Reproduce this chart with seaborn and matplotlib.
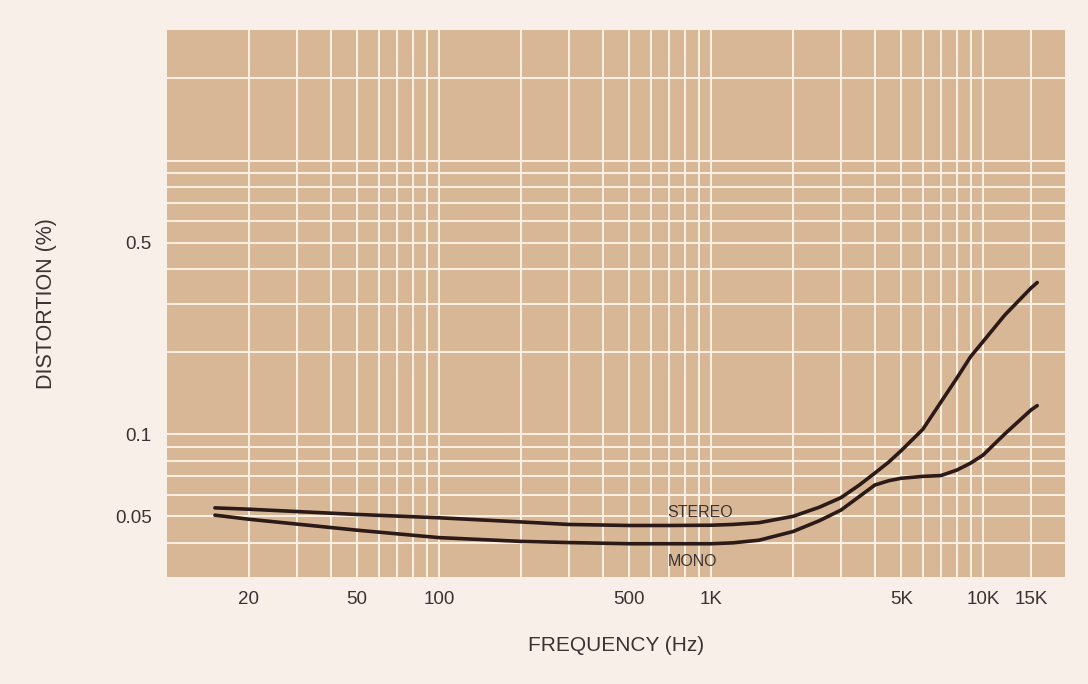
import numpy as np
import pandas as pd
import matplotlib
matplotlib.use('Agg')
import matplotlib.pyplot as plt
import seaborn as sns

# distortion vs frequency
freq = [15, 20, 50, 100, 200, 300, 500, 700, 1000, 1200, 1500, 2000, 2500,
        3000, 3500, 4000, 4500, 5000, 6000, 7000, 8000, 9000, 10000, 12000,
        15000, 15800]
stereo = [0.0537, 0.0531, 0.0508, 0.0494, 0.0477, 0.0467, 0.0463, 0.0463,
          0.0464, 0.0467, 0.0474, 0.050, 0.054, 0.0585, 0.065, 0.072, 0.079,
          0.087, 0.104, 0.131, 0.160, 0.192, 0.218, 0.272, 0.342, 0.358]
mono = [0.0505, 0.0488, 0.0445, 0.0418, 0.0405, 0.0401, 0.0397, 0.0397,
        0.0397, 0.0400, 0.0409, 0.044, 0.0482, 0.0527, 0.059, 0.0651, 0.0675,
        0.0689, 0.070, 0.0705, 0.0738, 0.0783, 0.0838, 0.100, 0.1225, 0.127]

x_ticks = [20, 50, 100, 500, 1000, 5000, 10000, 15000]
x_labels = ['20', '50', '100', '500', '1K', '5K', '10K', '15K']
x_minor = [30, 40, 60, 70, 80, 90, 200, 300, 400, 600, 700, 800, 900,
           2000, 3000, 4000, 6000, 7000, 8000, 9000]
y_ticks = [0.05, 0.1, 0.5]
y_labels = ['0.05', '0.1', '0.5']
y_minor = [0.04, 0.06, 0.07, 0.08, 0.09, 0.2, 0.3, 0.4, 0.6, 0.7, 0.8,
           0.9, 1.0, 2.0]

df = pd.DataFrame({'freq': freq, 'STEREO': stereo, 'MONO': mono})
df = df.melt(id_vars='freq', var_name='mode', value_name='dist')

bg = '#f8efe9'
panel = '#d8b797'
gridc = '#fbf1e3'
ink = '#3b3232'

sns.set_style('white', {'axes.facecolor': panel, 'figure.facecolor': bg})
plt.rcParams['font.family'] = ['Liberation Sans', 'DejaVu Sans']

fig, ax = plt.subplots(figsize=(10.88, 6.84), dpi=100)
fig.subplots_adjust(left=0.1535, right=0.9789, top=0.9561, bottom=0.1564)

sns.lineplot(data=df, x='freq', y='dist', hue='mode', palette=['#2b1a17', '#2b1a17'],
             linewidth=2.6, legend=False, ax=ax, zorder=3)

ax.set_xscale('log')
ax.set_yscale('log')
ax.set_xlim(10, 20000)
ax.set_ylim(0.03, 3)

ax.set_xticks(x_ticks)
ax.set_xticklabels(x_labels)
ax.set_xticks(x_minor, minor=True)
ax.set_yticks(y_ticks)
ax.set_yticklabels(y_labels)
ax.set_yticks(y_minor, minor=True)
ax.xaxis.set_minor_formatter(matplotlib.ticker.NullFormatter())
ax.yaxis.set_minor_formatter(matplotlib.ticker.NullFormatter())

ax.grid(True, which='both', color=gridc, linewidth=1.4)
ax.set_axisbelow(True)
ax.tick_params(which='both', length=0, labelsize=13.5, colors=ink)
ax.tick_params(axis='x', pad=10)
ax.tick_params(axis='y', pad=11)
for s in ax.spines.values():
    s.set_visible(False)

ax.set_xlabel('FREQUENCY (Hz)', fontsize=15, color=ink)
ax.set_ylabel('DISTORTION (%)', fontsize=15.5, color=ink)
ax.xaxis.label.set_va('center')
ax.yaxis.label.set_va('center')
ax.xaxis.set_label_coords(0.5, -0.126)
ax.yaxis.set_label_coords(-0.134, 0.5)

# curve labels
ax.text(908, 0.0518, 'STEREO', ha='center', va='center', fontsize=11.5, color=ink)
ax.text(857, 0.0341, 'MONO', ha='center', va='center', fontsize=11.5, color=ink)

fig.savefig('out.png', dpi=100, facecolor=bg)
